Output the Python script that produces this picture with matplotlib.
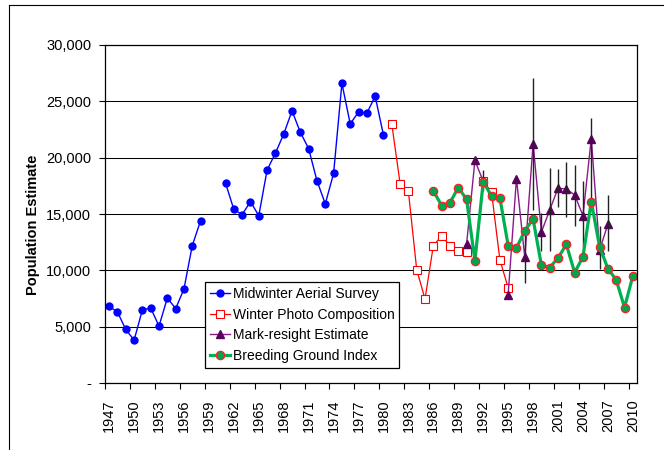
#imports:
import numpy as np
import matplotlib
matplotlib.use('Agg')
import matplotlib.pyplot as plt
from matplotlib import ticker
from matplotlib.lines import Line2D

#define:
plt.rcParams['font.family'] = ['Liberation Sans', 'DejaVu Sans']
plt.rcParams['font.size'] = 10.5
nan = np.nan

years = np.arange(1947, 2011)

midwinterYears = np.arange(1947, 1981)
midwinter = [6800, 6300, 4750, 3800, 6500, 6650, 5050, 7550, 6600, 8350,
             12200, 14400, nan, nan, 17750, 15400, 14950, 16100, 14850,
             18900, 20400, 22100, 24150, 22250, 20800, 17950, 15900,
             18600, 26600, 23000, 24050, 23950, 25450, 22000]

photoYears = np.arange(1981, 1996)
photo = [23000, 17700, 17000, 10050, 7450, 12200, 13050, 12200, 11750,
         11650, nan, 17950, 16950, 10950, 8450]

resightYears = np.arange(1990, 2008)
resight = [12350, 19750, 17900, nan, nan, 7850, 18150, 11150, 21250,
           13400, 15350, 17300, 17200, 16700, 14850, 21700, 11800, 14100]

#error bar ends for the mark-resight estimates
errorYears = [1992, 1997, 1998, 1999, 2000, 2001, 2002, 2003, 2004, 2005,
              2006, 2007]
errorLow = [17000, 8900, 15350, 11750, 11750, 15650, 14700, 13950, 12000,
            16100, 10100, 11700]
errorHigh = [18900, 13400, 27100, 15050, 19050, 18950, 19600, 19350, 17900,
             23550, 13900, 16700]

breedingYears = np.arange(1986, 2011)
breeding = [17050, 15750, 16000, 17350, 16300, 10850, 17850, 16600, 16450,
            12200, 12000, 13500, 14550, 10450, 10250, 11100, 12300, 9800,
            11200, 16100, 12100, 10150, 9150, 6700, 9500]

labels = ['Midwinter Aerial Survey', 'Winter Photo Composition',
          'Mark-resight Estimate', 'Breeding Ground Index']

#plot:
fig = plt.figure(figsize=(6.68, 4.5), dpi=100)
ax = fig.add_axes([105/668, 1-383/450, 532/668, 338/450])

ax.plot(midwinterYears, midwinter, color='#0000ff', lw=1.0, marker='o',
        markersize=6, markeredgewidth=0, label=labels[0])
ax.plot(photoYears, photo, color='#ff0000', lw=0.9, marker='s',
        markersize=5.8, markerfacecolor='white', markeredgecolor='#ff0000',
        markeredgewidth=0.8, label=labels[1])
ax.plot(resightYears, resight, color='#8a1a8a', lw=1.0, marker='^',
        markersize=5.8, markerfacecolor='#5c005e', markeredgecolor='#5c005e',
        label=labels[2])
ax.vlines(errorYears, errorLow, errorHigh, color='#222222', lw=1.0)
ax.plot(breedingYears, breeding, color='#00b050', lw=2.3, marker='o',
        markersize=6, markerfacecolor='#00a550', markeredgecolor='#ff2020',
        markeredgewidth=0.9, label=labels[3])

ax.set_xlim(1946.5, 2010.5)
ax.set_ylim(0, 30000)
ax.yaxis.set_major_locator(ticker.MultipleLocator(5000))
ax.yaxis.set_major_formatter(
    ticker.FuncFormatter(lambda v, p: '-' if v == 0 else f'{v:,.0f}'))
ax.grid(axis='y', color='black', lw=0.75)
ax.set_axisbelow(True)

#tick marks between categories, labels on every third year
ax.set_xticks(np.arange(1946.5, 2010, 3))
ax.set_xticklabels([])
ax.set_xticks(years[::3], minor=True)
ax.set_xticklabels([str(y) for y in years[::3]], minor=True, rotation=90)
ax.tick_params(axis='x', which='major', direction='out', length=4,
               width=0.8)
ax.tick_params(axis='x', which='minor', length=0, pad=12)
ax.tick_params(axis='y', direction='out', length=4, width=0.8, pad=6)
for spine in ax.spines.values():
    spine.set_color('black')
    spine.set_linewidth(0.9)

fig.text(33/668, 1-225/450, 'Population Estimate', rotation=90,
         ha='center', va='center', fontweight='bold', fontsize=10.5)

legend = ax.legend(loc='upper left', bbox_to_anchor=(205/668, 1-282/450),
                   bbox_transform=fig.transFigure, borderaxespad=0,
                   fancybox=False, framealpha=1, edgecolor='black',
                   handlelength=1.45, handletextpad=0.2, labelspacing=0.48,
                   borderpad=0.35, fontsize=10)
legend.get_frame().set_linewidth(0.9)

#outer chart border
fig.add_artist(Line2D([9/668, 9/668], [0, 1-5/450], color='black', lw=0.8,
                      transform=fig.transFigure))
fig.add_artist(Line2D([9/668, 663/668], [1-5/450, 1-5/450], color='black',
                      lw=0.8, transform=fig.transFigure))

fig.savefig('out.png', dpi=100)
